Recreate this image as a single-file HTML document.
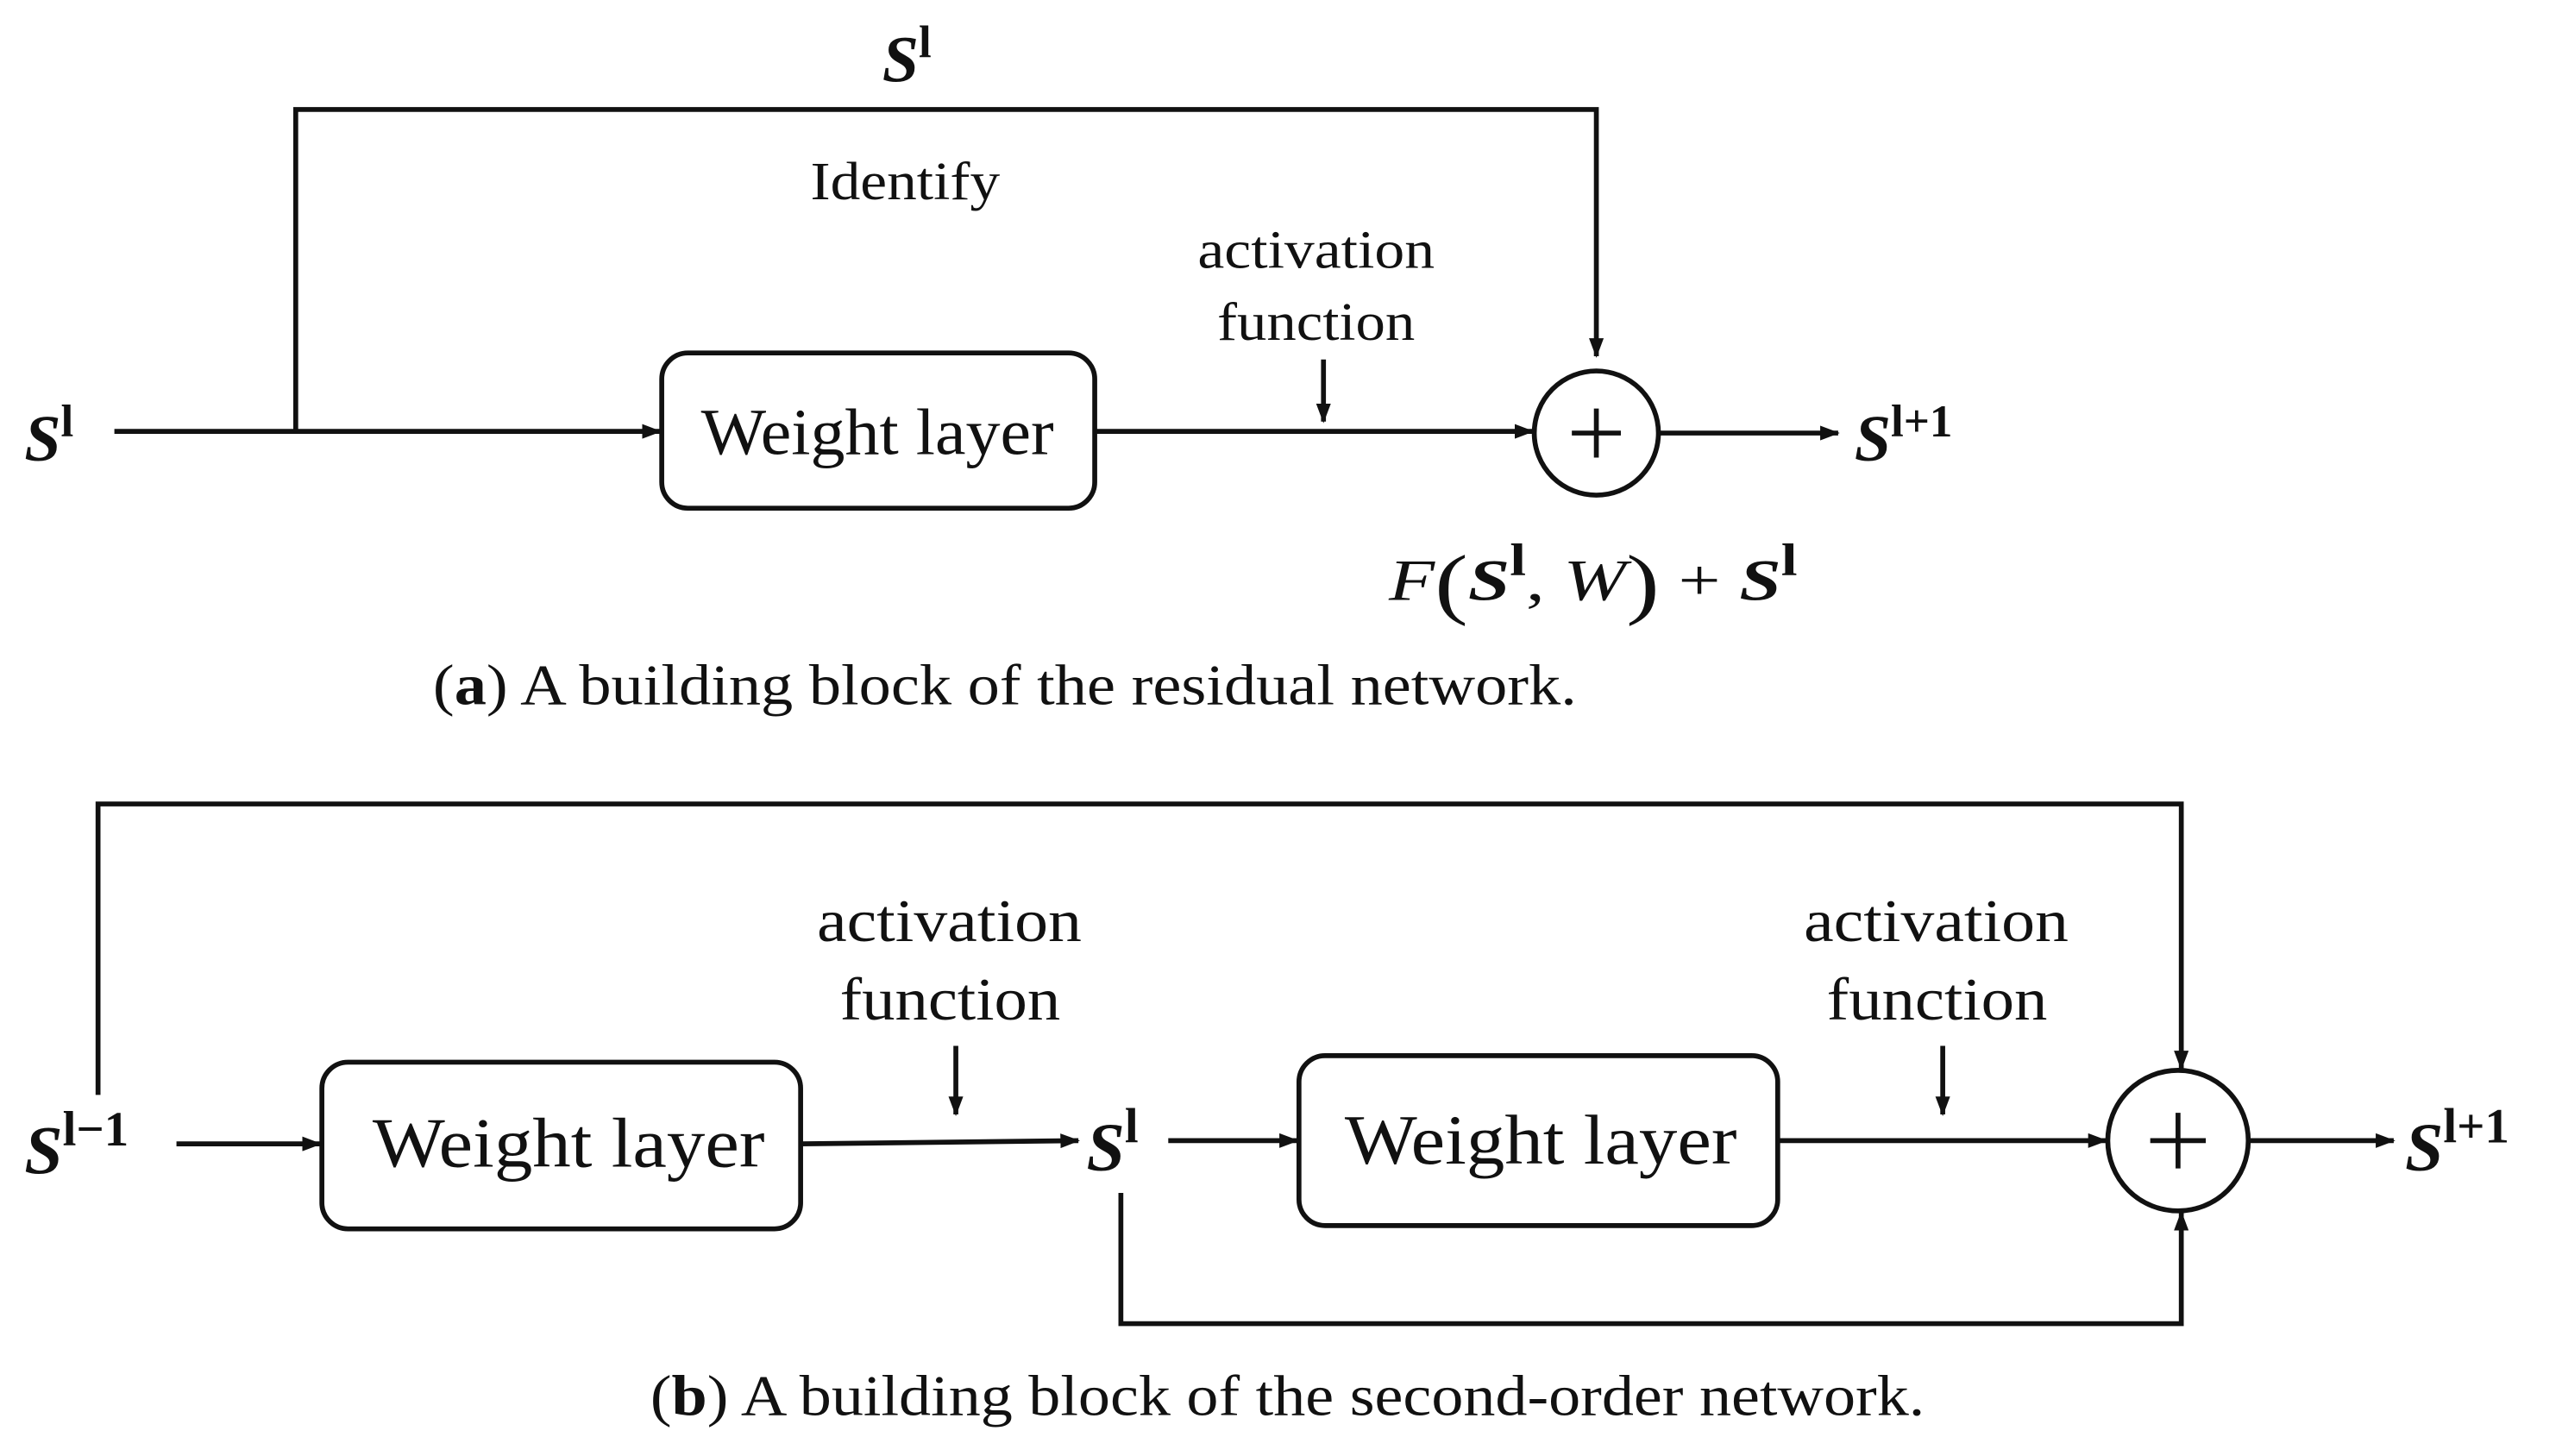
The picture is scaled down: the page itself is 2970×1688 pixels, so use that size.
<!DOCTYPE html>
<html><head><meta charset="utf-8">
<style>
html,body{margin:0;padding:0;background:#fff;}
svg{display:block;}
text{font-family:"Liberation Serif",serif;fill:#111;}
.s{font-weight:bold;font-style:italic;}
.u{font-weight:bold;font-style:normal;}
</style></head>
<body>
<svg width="2970" height="1688" viewBox="0 0 1568 891" preserveAspectRatio="none" xmlns="http://www.w3.org/2000/svg">
<defs>
<marker id="a" markerWidth="12" markerHeight="9" refX="11" refY="4.5" orient="auto" markerUnits="userSpaceOnUse">
<path d="M0,0 L12,4.5 L0,9 Z" fill="#111"/>
</marker>
</defs>
<g stroke="#111" stroke-width="3" fill="none">
<!-- (a) -->
<line x1="70" y1="264" x2="404" y2="264" marker-end="url(#a)"/>
<polyline points="181,264 181,67 977,67 977,218" marker-end="url(#a)"/>
<rect x="405" y="216" width="265" height="95" rx="16"/>
<line x1="670" y1="264" x2="938" y2="264" marker-end="url(#a)"/>
<circle cx="977" cy="265" r="38"/>
<line x1="810" y1="220" x2="810" y2="258" marker-end="url(#a)"/>
<line x1="1015" y1="265" x2="1125" y2="265" marker-end="url(#a)"/>
<!-- (b) -->
<polyline points="60,670 60,492 1335,492 1335,654" marker-end="url(#a)"/>
<line x1="108" y1="700" x2="196" y2="700" marker-end="url(#a)"/>
<rect x="197" y="650" width="293" height="102" rx="16"/>
<line x1="490" y1="700" x2="660" y2="698" marker-end="url(#a)"/>
<line x1="585" y1="640" x2="585" y2="682" marker-end="url(#a)"/>
<line x1="715" y1="698" x2="794" y2="698" marker-end="url(#a)"/>
<rect x="795" y="646" width="293" height="104" rx="16"/>
<line x1="1088" y1="698" x2="1289" y2="698" marker-end="url(#a)"/>
<line x1="1189" y1="640" x2="1189" y2="682" marker-end="url(#a)"/>
<circle cx="1333" cy="698" r="43"/>
<line x1="1376" y1="698" x2="1465" y2="698" marker-end="url(#a)"/>
<polyline points="686,730 686,810 1335,810 1335,742" marker-end="url(#a)"/>
</g>
<g stroke="#111" stroke-width="3">
<line x1="977" y1="250" x2="977" y2="280"/><line x1="962" y1="265" x2="992" y2="265"/>
<line x1="1333" y1="681" x2="1333" y2="715"/><line x1="1316" y1="698" x2="1350" y2="698"/>
</g>
<!-- (a) text -->
<text x="15" y="282" font-size="40" class="s">S<tspan class="u" font-size="28" dy="-15">l</tspan></text>
<text x="540" y="50" font-size="40" class="s">S<tspan class="u" font-size="28" dy="-15">l</tspan></text>
<text x="496" y="122" font-size="33" textLength="116" lengthAdjust="spacingAndGlyphs">Identify</text>
<text x="429" y="278" font-size="40" textLength="216" lengthAdjust="spacingAndGlyphs">Weight layer</text>
<text x="733" y="164" font-size="33" textLength="145" lengthAdjust="spacingAndGlyphs">activation</text>
<text x="745" y="208" font-size="33" textLength="121" lengthAdjust="spacingAndGlyphs">function</text>
<text x="1135" y="282" font-size="40" class="s">S<tspan class="u" font-size="28" dy="-15">l+1</tspan></text>
<text x="850" y="367" font-size="36" textLength="250" lengthAdjust="spacingAndGlyphs"><tspan font-style="italic">F</tspan><tspan font-size="48" dy="6">(</tspan><tspan class="s" dy="-6">S</tspan><tspan class="u" font-size="28" dy="-15">l</tspan><tspan dy="15">, </tspan><tspan font-style="italic">W</tspan><tspan font-size="48" dy="6">)</tspan><tspan dy="-6"> + </tspan><tspan class="s">S</tspan><tspan class="u" font-size="28" dy="-15">l</tspan></text>
<text x="265" y="431" font-size="35" textLength="700" lengthAdjust="spacingAndGlyphs">(<tspan font-weight="bold">a</tspan>) A building block of the residual network.</text>
<!-- (b) text -->
<text x="15" y="718" font-size="42" class="s">S<tspan class="u" font-size="30" dy="-17">l−1</tspan></text>
<text x="228" y="714" font-size="43" textLength="240" lengthAdjust="spacingAndGlyphs">Weight layer</text>
<text x="500" y="576" font-size="37" textLength="162" lengthAdjust="spacingAndGlyphs">activation</text>
<text x="514" y="624" font-size="37" textLength="135" lengthAdjust="spacingAndGlyphs">function</text>
<text x="665" y="716" font-size="42" class="s">S<tspan class="u" font-size="30" dy="-17">l</tspan></text>
<text x="823" y="712" font-size="43" textLength="240" lengthAdjust="spacingAndGlyphs">Weight layer</text>
<text x="1104" y="576" font-size="37" textLength="162" lengthAdjust="spacingAndGlyphs">activation</text>
<text x="1118" y="624" font-size="37" textLength="135" lengthAdjust="spacingAndGlyphs">function</text>
<text x="1472" y="716" font-size="42" class="s">S<tspan class="u" font-size="30" dy="-17">l+1</tspan></text>
<text x="398" y="866" font-size="35" textLength="780" lengthAdjust="spacingAndGlyphs">(<tspan font-weight="bold">b</tspan>) A building block of the second-order network.</text>
</svg>
</body></html>
